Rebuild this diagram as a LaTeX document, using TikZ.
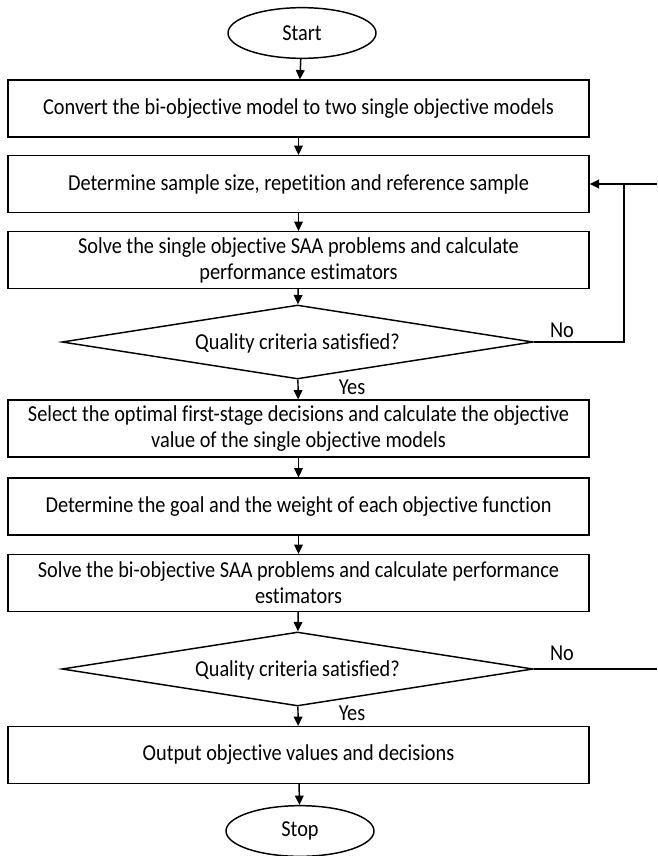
\documentclass[tikz,border=0pt]{standalone}
\usepackage{fontspec}
\setmainfont{Carlito}[Ligatures={NoCommon},FakeStretch=0.89]
\usetikzlibrary{shapes.geometric,arrows.meta}
\begin{document}
\begin{tikzpicture}[x=0.75pt,y=-0.75pt,
  every node/.style={font=\fontsize{17.1}{19.5}\selectfont},
  stepbox/.style={draw,line width=1.1pt,rectangle,minimum width=435.75pt,minimum height=42.5pt,inner sep=0pt,align=center},
  term/.style={draw,line width=1.1pt,ellipse,minimum width=111pt,minimum height=38pt,inner sep=0pt},
  decide/.style={draw,line width=1.1pt,diamond,minimum width=353.25pt,minimum height=55.5pt,inner sep=0pt},
  arr/.style={line width=1.1pt,-{Triangle[length=7pt,width=6.5pt]}},
  ln/.style={line width=1.1pt}]
\useasboundingbox (0,0) rectangle (657,856);
\node[term] (start) at (302,33) {Start};
\node[stepbox] (b1) at (298.5,108.5) {Convert the bi-objective model to two single objective models};
\node[stepbox] (b2) at (298.5,184) {Determine sample size, repetition and reference sample};
\node[stepbox] (b3) at (298.5,260) {Solve the single objective SAA problems and calculate\\performance estimators};
\node[decide] (d1) at (297.5,342) {};
\node (q1) at (297.5,343) {Quality criteria satisfied?};
\node[stepbox] (b4) at (298.5,428.5) {Select the optimal first-stage decisions and calculate the objective\\value of the single objective models};
\node[stepbox] (b5) at (298.5,506.5) {Determine the goal and the weight of each objective function};
\node[stepbox] (b6) at (298.5,583) {Solve the bi-objective SAA problems and calculate performance\\estimators};
\node[decide] (d2) at (297.5,669) {};
\node (q2) at (297.5,670) {Quality criteria satisfied?};
\node[stepbox] (b7) at (298.5,755) {Output objective values and decisions};
\node[term] (stop) at (300,831) {Stop};
\node (no1) at (562,330) {No};
\node (no2) at (562,653) {No};
\node (yes1) at (352,387) {Yes};
\node (yes2) at (352,713) {Yes};
\coordinate (r1) at (624,342);
\coordinate (r2) at (624,184);
\coordinate (e1) at (657,184);
\coordinate (e2) at (657,669);
\draw[arr] (start) -- (b1);
\draw[arr] (b1) -- (b2);
\draw[arr] (b2) -- (b3);
\draw[arr] (b3) -- (d1);
\draw[arr] (d1) -- (b4);
\draw[arr] (b4) -- (b5);
\draw[arr] (b5) -- (b6);
\draw[arr] (b6) -- (d2);
\draw[arr] (d2) -- (b7);
\draw[arr] (b7) -- (stop);
\draw[ln] (d1.east) -- (r1) -- (r2);
\draw[arr] (e1) -- (b2.east);
\draw[ln] (d2.east) -- (e2);
\end{tikzpicture}
\end{document}
